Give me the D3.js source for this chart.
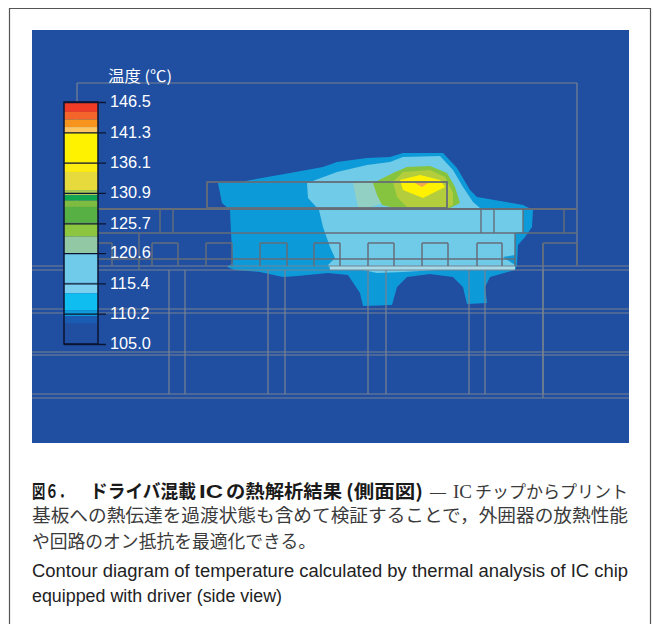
<!DOCTYPE html>
<html>
<head>
<meta charset="utf-8">
<script src="https://cdn.jsdelivr.net/npm/d3@7"></script>
<style>
  html, body { margin: 0; padding: 0; background: #fff; }
  svg { display: block; }
</style>
</head>
<body>
<svg id="chart"></svg>
<script>
// legend: temperature scale
var tickLabels = [146.5, 141.3, 136.1, 130.9, 125.7, 120.6, 115.4, 110.2, 105.0];
var bandBreaks = [146.5, 144.8, 143.5, 142.2, 141.2, 136.2, 134.5, 131.4, 130.5, 129.6, 128.5, 125.8, 123.4, 120.6, 115.5, 113.7, 110.8, 109.8, 108.5, 105];
var bandColors = ["#f03c26", "#f3652b", "#f7941d", "#fbc662", "#fff200", "#fdec10", "#e6da3c", "#a9c953", "#10a84f", "#7dbb41", "#57b044", "#8cc641", "#92c9a4", "#70cbea", "#7dcff0", "#0fbdf0", "#0f9ad8", "#1a5cb2", "#204fa2"];

// contours, in section grid units
var contourOuter = [[186,153],[208,152],[258,143],[291,137],[305,132],[335,128],[358,127],[371,123],[411,123],[425,138],[438,160],[445,167],[468,171],[491,175],[501,180],[500,197],[493,207],[486,215],[485,235],[483,240],[458,247],[453,257],[455,273],[435,274],[431,257],[421,247],[398,244],[375,247],[365,257],[360,275],[331,276],[328,263],[316,245],[296,243],[265,246],[251,247],[228,242],[203,240],[195,237],[201,233],[199,203],[198,180],[190,173]];
var contourLight = [[275,153],[278,152],[305,142],[335,135],[358,132],[371,127],[408,126],[421,140],[431,157],[441,172],[448,178],[491,179],[491,202],[483,203],[483,225],[471,227],[483,235],[483,239],[405,240],[371,242],[345,243],[331,240],[298,239],[296,235],[303,228],[298,217],[291,197],[287,180],[276,168]];
var contourPale = [[321,153],[341,150],[351,173],[335,178],[326,178]];
var contourGreen = [[341,153],[361,143],[375,137],[398,136],[415,143],[423,157],[428,173],[418,178],[371,180],[350,175],[345,165]];
var contourLime = [[361,152],[371,142],[398,140],[413,147],[421,163],[421,175],[415,178],[375,177],[365,167]];
var contourYellow = [[368,150],[388,145],[408,150],[413,157],[391,168],[371,160]];
var contourOrange = [[383,153],[396,153],[390,157]];
var contourStrip = [[298,236],[483,236],[483,240],[298,240]];

// structure of the package
var topBox = [45, 545, 53, 235];
var chipBox = [175, 415, 152, 178];
var padBoxes = [[45,80],[120,146],[174,200],[228,255],[282,308],[336,362],[390,416],[445,470],[511,545]];
var innerRows = [[179,45,545],[203,45,545],[229,45,483]];
var boardRows = [236, 240, 279, 283, 322, 325, 364, 368];
var viaCols = [137, 153, 236, 253, 336, 354, 437, 453, 511];
var stubCols = [[128,179,203],[141,179,203],[449,179,203],[462,179,203],[491,179,203],[532,179,203],[483,203,236],[107,203,240]];

// caption pieces: text, left, right
var captionHead = [["図６．", 32, 72], ["ドライバ混載", 90, 196], ["の熱解析結果", 226, 342], ["(側面図)", 346, 423]];
var captionLead = [["—", 429, 447], ["チップからプリント", 475, 628]];
var captionChip = ["IC", 199, 223];
var captionChipSerif = ["IC", 453, 472];
var captionBody = [["基板への熱伝達を過渡状態も含めて検証することで，外囲器の放熱性能", 32, 628], ["や回路のオン抵抗を最適化できる。", 32, 316]];
var captionEn = [["Contour diagram of temperature calculated by thermal analysis of IC chip", 32, 628], ["equipped with driver (side view)", 32, 282]];

var width = 653, height = 624;
var svg = d3.select("#chart").attr("width", width).attr("height", height);

var defs = svg.append("defs");
defs.append("filter").attr("id", "soft")
    .append("feGaussianBlur").attr("stdDeviation", 0.5);

// page frame
svg.append("path")
    .attr("d", "M9.5,624V8.5H650.5V624")
    .attr("fill", "none")
    .attr("stroke", "#555")
    .attr("stroke-width", 1.2);

var x = d3.scaleLinear().domain([0, 597]).range([32, 629]);
var y = d3.scaleLinear().domain([0, 413]).range([30, 443]);

svg.append("rect")
    .attr("x", x(0)).attr("y", y(0))
    .attr("width", x(597) - x(0)).attr("height", y(413) - y(0))
    .attr("fill", "#204fa2");

var line = d3.line().x(d => x(d[0])).y(d => y(d[1])).curve(d3.curveLinearClosed);

var contours = [
    [contourOuter, "#0f9ad8"],
    [contourLight, "#6fcbe9"],
    [contourStrip, "#a6dcea"],
    [contourPale, "#93d0c4"],
    [contourGreen, "#86c440"],
    [contourLime, "#b3cd3c"],
    [contourYellow, "#fff200"],
    [contourOrange, "#f3a84a"]
];
var figure = svg.append("g").attr("filter", "url(#soft)");
figure.append("g").selectAll("path")
    .data(contours)
    .join("path")
    .attr("d", d => line(d[0]))
    .attr("fill", d => d[1]);

// structure lines
var gLines = figure.append("g").attr("fill", "none").attr("stroke", "#78828f").attr("stroke-width", 1.2);

function hline(row, x1, x2, w, c) {
    gLines.append("line").attr("x1", x(x1)).attr("x2", x(x2)).attr("y1", y(row)).attr("y2", y(row))
        .attr("stroke-width", w || 1.2).attr("stroke", c || null);
}
function vline(col, y1, y2, w, c) {
    gLines.append("line").attr("x1", x(col)).attr("x2", x(col)).attr("y1", y(y1)).attr("y2", y(y2))
        .attr("stroke-width", w || 1.2).attr("stroke", c || null);
}

var darkLine = "#656d78";
hline(topBox[2], topBox[0], topBox[1]);
vline(topBox[0], topBox[2], topBox[3]);
vline(topBox[1], topBox[2], topBox[3]);

innerRows.forEach(d => hline(d[0], d[1], d[2], d[0] === 179 ? 2.2 : 1.6, darkLine));
boardRows.forEach(d => hline(d, 0, 597));
stubCols.forEach(d => vline(d[0], d[1], d[2], 1.4, darkLine));
viaCols.forEach(d => vline(d, 240, 364));
vline(511, 213, 368);

padBoxes.forEach(d => {
    vline(d[0], 213, 236, 1.5, darkLine);
    vline(d[1], 213, 236, 1.5, darkLine);
    hline(213, d[0], d[1], 1.5, darkLine);
});

gLines.append("rect")
    .attr("x", x(chipBox[0])).attr("y", y(chipBox[2]))
    .attr("width", x(chipBox[1]) - x(chipBox[0])).attr("height", y(chipBox[3]) - y(chipBox[2]))
    .attr("stroke", darkLine).attr("stroke-width", 1.8);

// legend
var legendScale = d3.scaleLinear().domain([105, 146.5]).range([344, 102]);
var legendX0 = 64, legendX1 = 98;
var legend = svg.append("g");

legend.selectAll("rect.band")
    .data(bandColors)
    .join("rect")
    .attr("class", "band")
    .attr("x", legendX0).attr("width", legendX1 - legendX0)
    .attr("y", (d, i) => legendScale(bandBreaks[i]))
    .attr("height", (d, i) => legendScale(bandBreaks[i + 1]) - legendScale(bandBreaks[i]))
    .attr("fill", d => d);

legend.append("rect")
    .attr("x", legendX0).attr("y", legendScale(146.5))
    .attr("width", legendX1 - legendX0).attr("height", legendScale(105) - legendScale(146.5))
    .attr("fill", "none").attr("stroke", "#0b1430").attr("stroke-width", 1.5);

var legendAxis = d3.axisRight(legendScale)
    .tickValues(tickLabels)
    .tickFormat(d3.format(".1f"))
    .tickSize(42)
    .tickPadding(4);

var axisG = legend.append("g")
    .attr("transform", `translate(${legendX0},0)`)
    .call(legendAxis);
axisG.select(".domain").remove();
axisG.selectAll(".tick line").attr("stroke", "#0b1430").attr("stroke-width", 1.3);
axisG.selectAll(".tick text")
    .attr("fill", "#fff")
    .attr("dy", "0.3em")
    .style("font-family", "'Liberation Sans', sans-serif")
    .style("font-size", "16.3px");

svg.append("text")
    .attr("x", 108).attr("y", 82)
    .attr("textLength", 64).attr("lengthAdjust", "spacingAndGlyphs")
    .attr("fill", "#fff")
    .style("font-family", "'Noto Sans CJK JP', sans-serif")
    .style("font-size", "15.5px")
    .text("温度 (℃)");

// caption
var jpFont = "'Noto Sans CJK JP', sans-serif";
var enFont = "'Liberation Sans', sans-serif";
var serifFont = "'Liberation Serif', serif";

function caption(piece, baseline, font, size, weight, color) {
    svg.append("text")
        .attr("x", piece[1]).attr("y", baseline)
        .attr("textLength", piece[2] - piece[1]).attr("lengthAdjust", "spacingAndGlyphs")
        .attr("fill", color)
        .style("font-family", font)
        .style("font-size", size + "px")
        .style("font-weight", weight)
        .text(piece[0]);
}
captionHead.forEach(d => caption(d, 498, jpFont, 18.5, 700, "#1a1a1a"));
caption(captionChip, 498, enFont, 18, 700, "#1a1a1a");
captionLead.forEach(d => caption(d, 498, jpFont, 17, 400, "#3a3a3a"));
caption(captionChipSerif, 498, serifFont, 18, 400, "#3a3a3a");
caption(captionBody[0], 522, jpFont, 18, 400, "#3a3a3a");
caption(captionBody[1], 548, jpFont, 18, 400, "#3a3a3a");
caption(captionEn[0], 577, enFont, 17.5, 400, "#222");
caption(captionEn[1], 602, enFont, 17.5, 400, "#222");
</script>
</body>
</html>
